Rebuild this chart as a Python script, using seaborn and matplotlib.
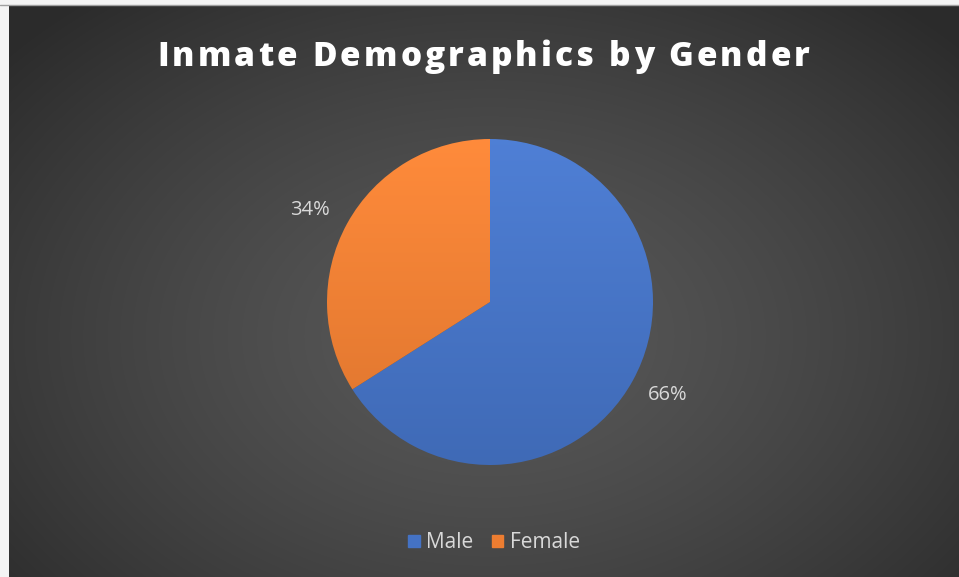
import numpy as np
import matplotlib
matplotlib.use("Agg")
import matplotlib.pyplot as plt
import matplotlib.colors as mcolors
import seaborn as sns

# Data
genders = ["Male", "Female"]
shares = [66, 34]
slice_colors = ["#4472C4", "#ED7D31"]
title = "Inmate Demographics by Gender"

sns.set_style("dark")
plt.rcParams["font.family"] = ["Open Sans", "DejaVu Sans"]

W, H = 959, 577
fig = plt.figure(figsize=(W / 100, H / 100), dpi=100)
fig.patch.set_facecolor("#f4f4f4")

# dark radial background of the chart area
bg = fig.add_axes([9 / W, 0, 950 / W, 571 / H])
yy, xx = np.mgrid[0:571, 0:950]
d = np.sqrt(((xx - 480) / 620.0) ** 2 + ((yy - 330) / 430.0) ** 2)
shade = np.clip(0.345 - 0.17 * d ** 1.4, 0.17, 0.345)
bg.imshow(np.dstack([shade] * 3), aspect="auto", interpolation="bilinear")
bg.set_axis_off()
fig.add_artist(plt.Line2D([0, 1], [1 - 4.5 / H, 1 - 4.5 / H], color="#a0a0a0", lw=1))

# title with letter spacing, drawn character by character
renderer = fig.canvas.get_renderer()
fs, track, weight = 24, 3.2, 800
def text_w(s):
    t = fig.text(0, 0, s, fontsize=fs, fontweight=weight)
    w = t.get_window_extent(renderer).width
    t.remove()
    return w
total = text_w(title) + track * (len(title) - 1)
x0 = (W - total) / 2 + 4
for i, ch in enumerate(title):
    xpos = x0 + (text_w(title[:i]) if i else 0) + track * i
    fig.text(xpos / W, 1 - 66 / H, ch, ha="left", va="baseline", color="white",
             fontsize=fs, fontweight=weight)

# pie
ax = fig.add_axes([(490 - 163) / W, (H - 302 - 163) / H, 326 / W, 326 / H])
wedges, texts = ax.pie(
    shares, labels=None, colors=slice_colors, startangle=90, counterclock=False,
    wedgeprops=dict(linewidth=0),
)
ax.set_xlim(-1, 1)
ax.set_ylim(-1, 1)
ax.set_aspect("auto")
ax.set_axis_off()

# percentage labels outside the slices
label_dist = [1.23, 1.24]
label_nudge = [1.2, 1.7]
for w, v, r, nudge in zip(wedges, shares, label_dist, label_nudge):
    mid = np.deg2rad((w.theta1 + w.theta2) / 2 + nudge)
    ax.text(r * np.cos(mid), r * np.sin(mid), f"{v}%", ha="center", va="center",
            color="#d9d9d9", fontsize=14.5)

# soft top-to-bottom shading on each slice
for w, c in zip(wedges, slice_colors):
    base = np.array(mcolors.to_rgb(c))
    top = np.clip(base * 1.05 + 0.03, 0, 1)
    bot = base * 0.93
    grad = np.linspace(0, 1, 256)[:, None, None]
    img = top * (1 - grad) + bot * grad
    im = ax.imshow(np.repeat(img, 2, axis=1), extent=[-1, 1, -1, 1], aspect="auto",
                   origin="upper", zorder=w.get_zorder())
    im.set_clip_path(w)
    w.set_facecolor("none")

handles = [plt.Rectangle((0, 0), 1, 1, color=c) for c in slice_colors]
fig.legend(handles, genders, loc="center", bbox_to_anchor=(494 / W, 1 - 543 / H),
           ncol=2, frameon=False, fontsize=15, labelcolor="#d9d9d9",
           handlelength=0.55, handleheight=0.55, handletextpad=0.3, columnspacing=0.9)

fig.savefig("out.png", dpi=100)
